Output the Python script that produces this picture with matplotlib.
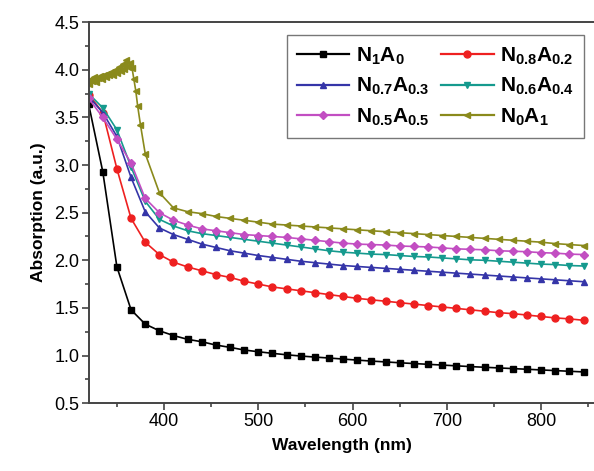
import numpy as np
import matplotlib
matplotlib.use("Agg")
import matplotlib.pyplot as plt
from matplotlib.ticker import MultipleLocator

plt.rcParams['font.family'] = 'Liberation Sans'
plt.rcParams['mathtext.fontset'] = 'custom'
plt.rcParams['mathtext.rm'] = 'Liberation Sans'
plt.rcParams['mathtext.bf'] = 'Liberation Sans:bold'

# wavelength grid (nm), one marker every 15 nm
wl = list(range(320, 846, 15))

n1a0 = [3.64, 2.93, 1.93, 1.48, 1.33, 1.26, 1.21, 1.17, 1.145, 1.11, 1.086, 1.058,
        1.04, 1.023, 1.008, 0.995, 0.984, 0.974, 0.963, 0.952, 0.942, 0.933, 0.924,
        0.916, 0.908, 0.900, 0.892, 0.884, 0.877, 0.870, 0.863, 0.856, 0.849, 0.842,
        0.835, 0.828]
n08a02 = [3.74, 3.55, 2.96, 2.44, 2.19, 2.06, 1.98, 1.93, 1.89, 1.85, 1.82, 1.78,
          1.75, 1.72, 1.70, 1.68, 1.66, 1.64, 1.62, 1.60, 1.585, 1.57, 1.555, 1.54,
          1.525, 1.51, 1.495, 1.48, 1.465, 1.45, 1.44, 1.425, 1.41, 1.395, 1.385, 1.37]
n07a03 = [3.72, 3.55, 3.30, 2.87, 2.51, 2.34, 2.27, 2.22, 2.17, 2.135, 2.10, 2.075,
          2.05, 2.03, 2.01, 1.99, 1.975, 1.96, 1.945, 1.935, 1.925, 1.915, 1.905,
          1.895, 1.885, 1.875, 1.865, 1.855, 1.845, 1.835, 1.825, 1.815, 1.805, 1.795,
          1.785, 1.775]
n06a04 = [3.75, 3.60, 3.37, 2.98, 2.62, 2.43, 2.36, 2.31, 2.28, 2.26, 2.24, 2.22,
          2.20, 2.18, 2.16, 2.14, 2.12, 2.10, 2.085, 2.075, 2.065, 2.06, 2.05, 2.04,
          2.035, 2.025, 2.015, 2.005, 2.0, 1.99, 1.98, 1.97, 1.96, 1.955, 1.945, 1.94]
n05a05 = [3.70, 3.50, 3.27, 3.02, 2.65, 2.50, 2.42, 2.37, 2.33, 2.31, 2.29, 2.27,
          2.26, 2.25, 2.24, 2.225, 2.21, 2.195, 2.18, 2.17, 2.165, 2.16, 2.15, 2.145,
          2.14, 2.13, 2.12, 2.115, 2.11, 2.10, 2.095, 2.09, 2.08, 2.075, 2.065, 2.06]

# N0A1 is noisy at short wavelength, sampled finer there
wl_n0a1 = [320, 322, 324, 326, 328, 330, 332, 334, 336, 338, 340, 342, 344, 346,
           348, 350, 352, 354, 356, 358, 360, 362, 364, 366, 368, 370, 372, 375] + wl[4:]
n0a1 = [3.85, 3.90, 3.88, 3.92, 3.87, 3.91, 3.93, 3.90, 3.95, 3.92, 3.96, 3.94,
        3.98, 3.95, 4.00, 3.97, 4.03, 3.99, 4.06, 4.01, 4.10, 4.03, 4.07, 4.02,
        3.90, 3.78, 3.62, 3.42,
        3.12, 2.71, 2.55, 2.51, 2.49, 2.46, 2.44, 2.42, 2.40, 2.38, 2.37, 2.36,
        2.35, 2.34, 2.33, 2.32, 2.31, 2.30, 2.29, 2.28, 2.27, 2.26, 2.25, 2.24,
        2.23, 2.22, 2.21, 2.20, 2.19, 2.175, 2.165, 2.155]

fig = plt.figure(figsize=(5.94, 4.71), dpi=100)
ax = fig.add_axes([0.15, 0.144, 0.85, 0.809])

ms = 5
l1, = ax.plot(wl, n1a0, color='black', marker='s', ms=ms, lw=1.2, label=r'$\mathbf{N_1A_0}$')
l2, = ax.plot(wl, n08a02, color='#ee2020', marker='o', ms=ms, lw=1.2, label=r'$\mathbf{N_{0.8}A_{0.2}}$')
l3, = ax.plot(wl, n07a03, color='#3535a8', marker='^', ms=ms, lw=1.2, label=r'$\mathbf{N_{0.7}A_{0.3}}$')
l4, = ax.plot(wl, n06a04, color='#159a8e', marker='v', ms=ms, lw=1.2, label=r'$\mathbf{N_{0.6}A_{0.4}}$')
l5, = ax.plot(wl, n05a05, color='#c24ec2', marker='D', ms=ms - 0.5, lw=1.2, label=r'$\mathbf{N_{0.5}A_{0.5}}$')
l6, = ax.plot(wl_n0a1, n0a1, color='#8a8a1c', marker='<', ms=ms - 0.5, lw=1.2, label=r'$\mathbf{N_0A_1}$')

ax.set_xlim(320.5, 856)
ax.set_ylim(0.5, 4.5)
ax.xaxis.set_major_locator(MultipleLocator(100))
ax.xaxis.set_minor_locator(MultipleLocator(50))
ax.yaxis.set_major_locator(MultipleLocator(0.5))
ax.yaxis.set_minor_locator(MultipleLocator(0.25))
ax.yaxis.set_major_formatter(matplotlib.ticker.FormatStrFormatter('%.1f'))
ax.tick_params(which='both', direction='out', top=False, right=False,
               labelsize=13, color='#444444', width=1.2, pad=2)
ax.tick_params(which='major', length=5)
ax.tick_params(which='minor', length=3)
for s in ['left', 'bottom', 'top']:
    ax.spines[s].set_color('#444444')
    ax.spines[s].set_linewidth(1.4)
ax.spines['right'].set_visible(False)

ax.set_xlabel('Wavelength (nm)', fontsize=12.5, fontweight='bold', labelpad=6)
ax.set_ylabel('Absorption (a.u.)', fontsize=12.5, fontweight='bold', labelpad=6)

# row-major order in a 2-column legend
handles = [l1, l3, l5, l2, l4, l6]
leg = ax.legend(handles=handles, labels=[h.get_label() for h in handles],
                ncol=2, loc='upper left', bbox_to_anchor=(0.483, 0.926),
                bbox_transform=fig.transFigure, fontsize=15, handlelength=2.5,
                columnspacing=0.6, handletextpad=0.3, labelspacing=0.45,
                borderpad=0.5, borderaxespad=0, fancybox=False, framealpha=1)
leg.get_frame().set_edgecolor('#777777')
leg.get_frame().set_linewidth(1.0)
for h in leg.legend_handles:
    h.set_linewidth(1.6)

fig.savefig('out.png', dpi=100)
